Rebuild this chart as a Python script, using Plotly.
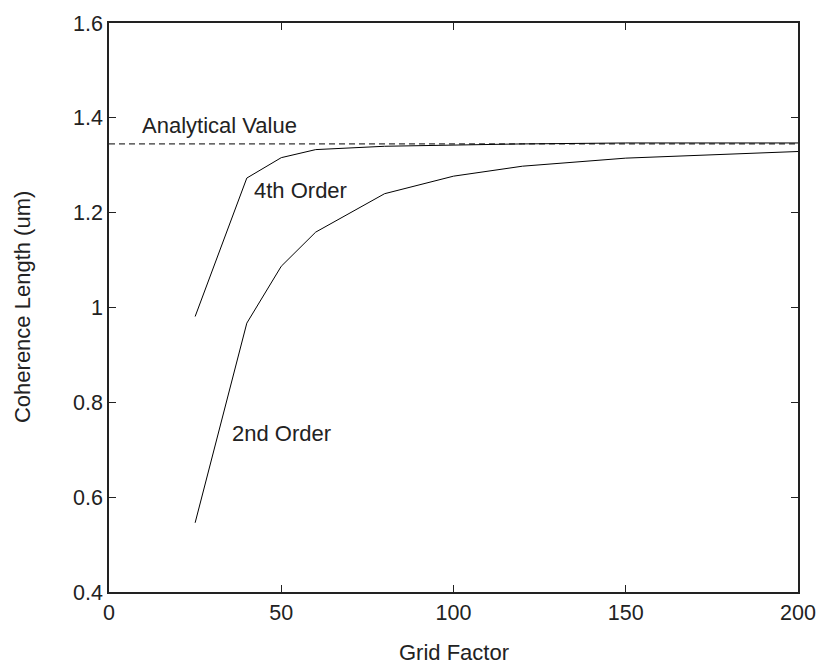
import plotly.graph_objects as go

grid_factor = [25, 40, 50, 60, 80, 100, 120, 150, 200]
order4 = [0.981, 1.273, 1.316, 1.333, 1.340, 1.343, 1.345, 1.347, 1.347]
order2 = [0.546, 0.967, 1.087, 1.159, 1.240, 1.277, 1.298, 1.315, 1.329]
analytical_x = [0, 200]
analytical_value = 1.345

x_ticks = [0, 50, 100, 150, 200]
y_ticks = [0.4, 0.6, 0.8, 1.0, 1.2, 1.4, 1.6]
y_ticktext = ["0.4", "0.6", "0.8", "1", "1.2", "1.4", "1.6"]

FONT = "Liberation Sans, Arial, sans-serif"
FS = 22
TICK_FS = 21.5

fig = go.Figure()
fig.add_trace(go.Scatter(x=analytical_x, y=[analytical_value] * len(analytical_x), mode="lines",
                         line=dict(color="black", width=1, dash="6px,4px"), showlegend=False))
fig.add_trace(go.Scatter(x=grid_factor, y=order4, mode="lines",
                         line=dict(color="black", width=1), showlegend=False))
fig.add_trace(go.Scatter(x=grid_factor, y=order2, mode="lines",
                         line=dict(color="black", width=1), showlegend=False))

labels = [("Analytical Value", 9.4, 1.384), ("4th Order", 41.9, 1.246), ("2nd Order", 35.4, 0.734)]
for txt, lx, ly in labels:
    fig.add_annotation(x=lx, y=ly, text=txt, showarrow=False, xanchor="left", yanchor="middle",
                       xshift=-1, font=dict(family=FONT, size=FS, color="#222"))

fig.add_annotation(xref="paper", yref="paper", x=-0.1255, y=0.5, text="Coherence Length (um)",
                   textangle=-90, showarrow=False, xanchor="center", yanchor="middle",
                   font=dict(family=FONT, size=FS, color="#222"))
fig.add_annotation(xref="paper", yref="paper", x=0.5, y=-0.106, text="Grid Factor",
                   showarrow=False, xanchor="center", yanchor="middle",
                   font=dict(family=FONT, size=FS, color="#222"))

axis_common = dict(showgrid=False, zeroline=False, showline=True, linecolor="#222", linewidth=1.5,
                   mirror="ticks", ticks="inside", ticklen=7, tickcolor="#222", tickwidth=1,
                   automargin=False,
                   tickfont=dict(family=FONT, size=TICK_FS, color="#222"))
fig.update_xaxes(range=[0, 200], tickvals=x_ticks, **axis_common)
fig.update_yaxes(range=[0.4, 1.6], tickvals=y_ticks, ticktext=y_ticktext, **axis_common)

fig.update_layout(width=816, height=664, margin=dict(l=108.5, r=18, t=22.7, b=72.3),
                  plot_bgcolor="white", paper_bgcolor="white")

fig.write_html("out.html")
